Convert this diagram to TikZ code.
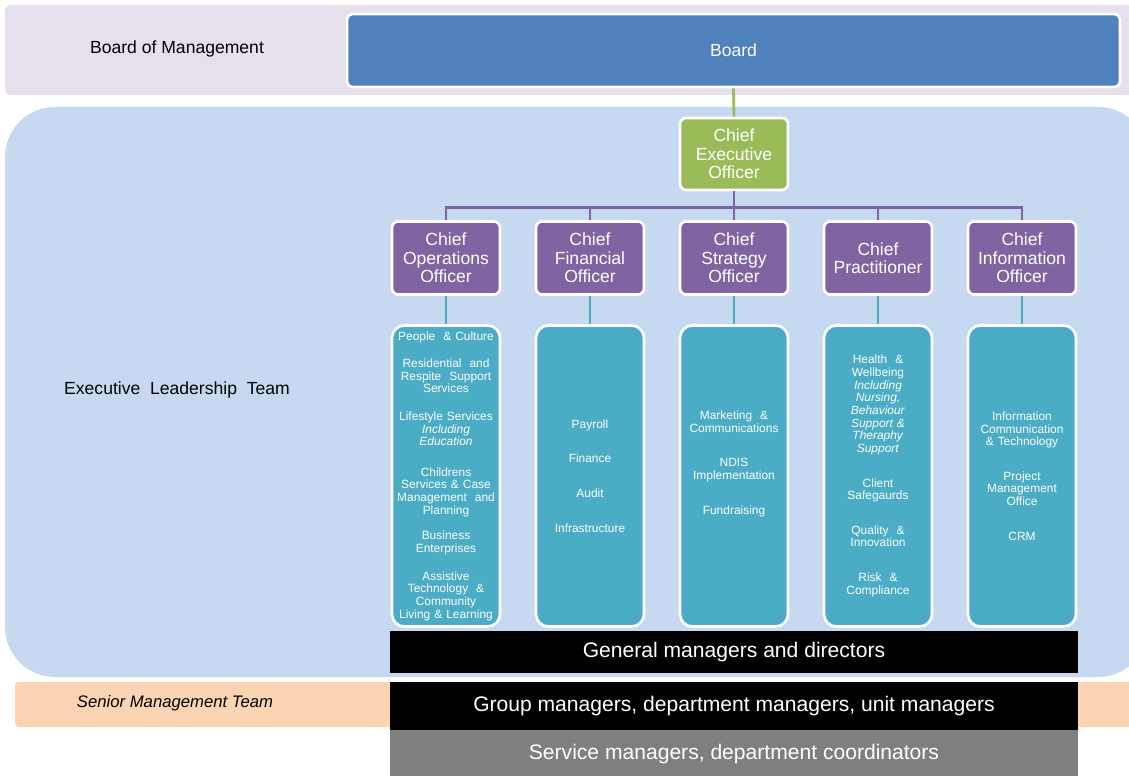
\documentclass[tikz,border=0pt]{standalone}
\usepackage{fontspec}
\setmainfont{Liberation Sans}
\usepackage{tikz}
\usetikzlibrary{calc}
\definecolor{boardbg}{HTML}{E5E0EC}
\definecolor{execbg}{HTML}{C6D9F0}
\definecolor{seniorbg}{HTML}{FBD4B4}
\definecolor{boardblue}{HTML}{4F81BD}
\definecolor{ceogreen}{HTML}{9BBB59}
\definecolor{chiefpurple}{HTML}{8064A2}
\definecolor{deptteal}{HTML}{4BACC6}
\definecolor{svcgray}{HTML}{7F7F7F}

\begin{document}
\begin{tikzpicture}[x=0.02cm,y=-0.02cm,
  bandlabel/.style={font=\fontsize{10}{12}\selectfont},
  chiefbox/.style={draw=white,line width=1.5pt,rounded corners=3.5pt,fill=chiefpurple,text=white,
    minimum width=2.16cm,minimum height=1.46cm,inner sep=1pt,align=center,
    font=\fontsize{10}{10.5}\selectfont},
  deptbox/.style={draw=white,line width=1.5pt,rounded corners=7pt,fill=deptteal,text=white,
    minimum width=2.16cm,minimum height=6.02cm,text width=2.04cm,inner sep=0.04cm,align=center,
    font=\fontsize{6.8}{7.2}\selectfont},
  mgrbar/.style={minimum width=13.76cm,text=white,inner sep=0pt,
    font=\fontsize{12}{14}\selectfont}]
\useasboundingbox (0,0) rectangle (1129,776);

\fill[boardbg,rounded corners=3pt] (5,5) rectangle (1135,95);
\fill[execbg,rounded corners=1cm] (5,107) rectangle (1148,677);
\fill[seniorbg,rounded corners=2pt] (15,682) rectangle (1135,727);

\node[bandlabel] (lbm) at (177,49) {Board of Management};
\node[bandlabel] (lelt) at (177,390) {Executive\ \ Leadership\ \ Team};
\node[bandlabel,font=\fontsize{9.5}{12}\selectfont\itshape] (lsmt) at (175,703) {Senior Management Team};

\node[draw=white,line width=1.5pt,rounded corners=3pt,fill=boardblue,text=white,
  minimum width=15.46cm,minimum height=1.46cm,font=\fontsize{10}{12}\selectfont] (board) at (733.5,50.5) {Board};
\node[chiefbox,fill=ceogreen,minimum height=1.44cm] (ceo) at (734,154) {Chief\\Executive\\Officer};
\draw[ceogreen,line width=1.6pt] (board.south) -- (ceo.north);

\foreach \i/\x/\t in {1/446/{Chief\\Operations\\Officer},2/590/{Chief\\Financial\\Officer},
  3/734/{Chief\\Strategy\\Officer},4/878/{Chief\\Practitioner},5/1022/{Chief\\Information\\Officer}}{
\node[chiefbox] (co\i) at (\x,258) {\t};
\draw[chiefpurple,line width=1.6pt] (ceo.south) -- ++(0,16) -| (co\i.north);}

\node[deptbox] (dept1) at (446,476) {People\ \ \&\ Culture\\[8.5pt]
  Residential\ \ and\\Respite\ \ Support\\Services\\[8.5pt]
  Lifestyle Services\\\textit{Including}\\\textit{Education}\\[10pt]
  Childrens\\Services \& Case\\Management\ \ and\\Planning\\[7.5pt]
  Business\\Enterprises\\[8.5pt]
  Assistive\\Technology\ \ \&\\Community\\Living \& Learning};
\node[deptbox] (dept2) at (590,476) {Payroll\\[12.5pt]Finance\\[12.5pt]Audit\\[12.5pt]Infrastructure};
\node[deptbox] (dept3) at (734,476) {Marketing\ \ \&\\Communications\\[12.5pt]
  NDIS\\Implementation\\[12.5pt]Fundraising\\[8pt]\mbox{}};
\node[deptbox] (dept4) at (878,476) {Health\ \ \&\\Wellbeing\\\textit{Including}\\\textit{Nursing,}\\
  \textit{Behaviour}\\\textit{Support \&}\\\textit{Theraphy}\\\textit{Support}\\[12.5pt]
  Client\\Safegaurds\\[12.5pt]Quality\ \ \&\\Innovation\\[12.5pt]Risk\ \ \&\\Compliance};
\node[deptbox] (dept5) at (1022,476) {Information\\Communication\\\&\ Technology\\[12.5pt]
  Project\\Management\\Office\\[12.5pt]CRM};

\foreach \i in {1,...,5}{
\draw[deptteal,line width=1.6pt] (co\i.south) -- (dept\i.north);}

\node[mgrbar,fill=black,minimum height=0.84cm] (gm) at (734,652) {General managers and directors};
\node[mgrbar,fill=black,minimum height=0.96cm] (grp) at (734,706) {Group managers, department managers, unit managers};
\node[mgrbar,fill=svcgray,minimum height=0.96cm] (svc) at (734,754) {Service managers, department coordinators};

\end{tikzpicture}
\end{document}
